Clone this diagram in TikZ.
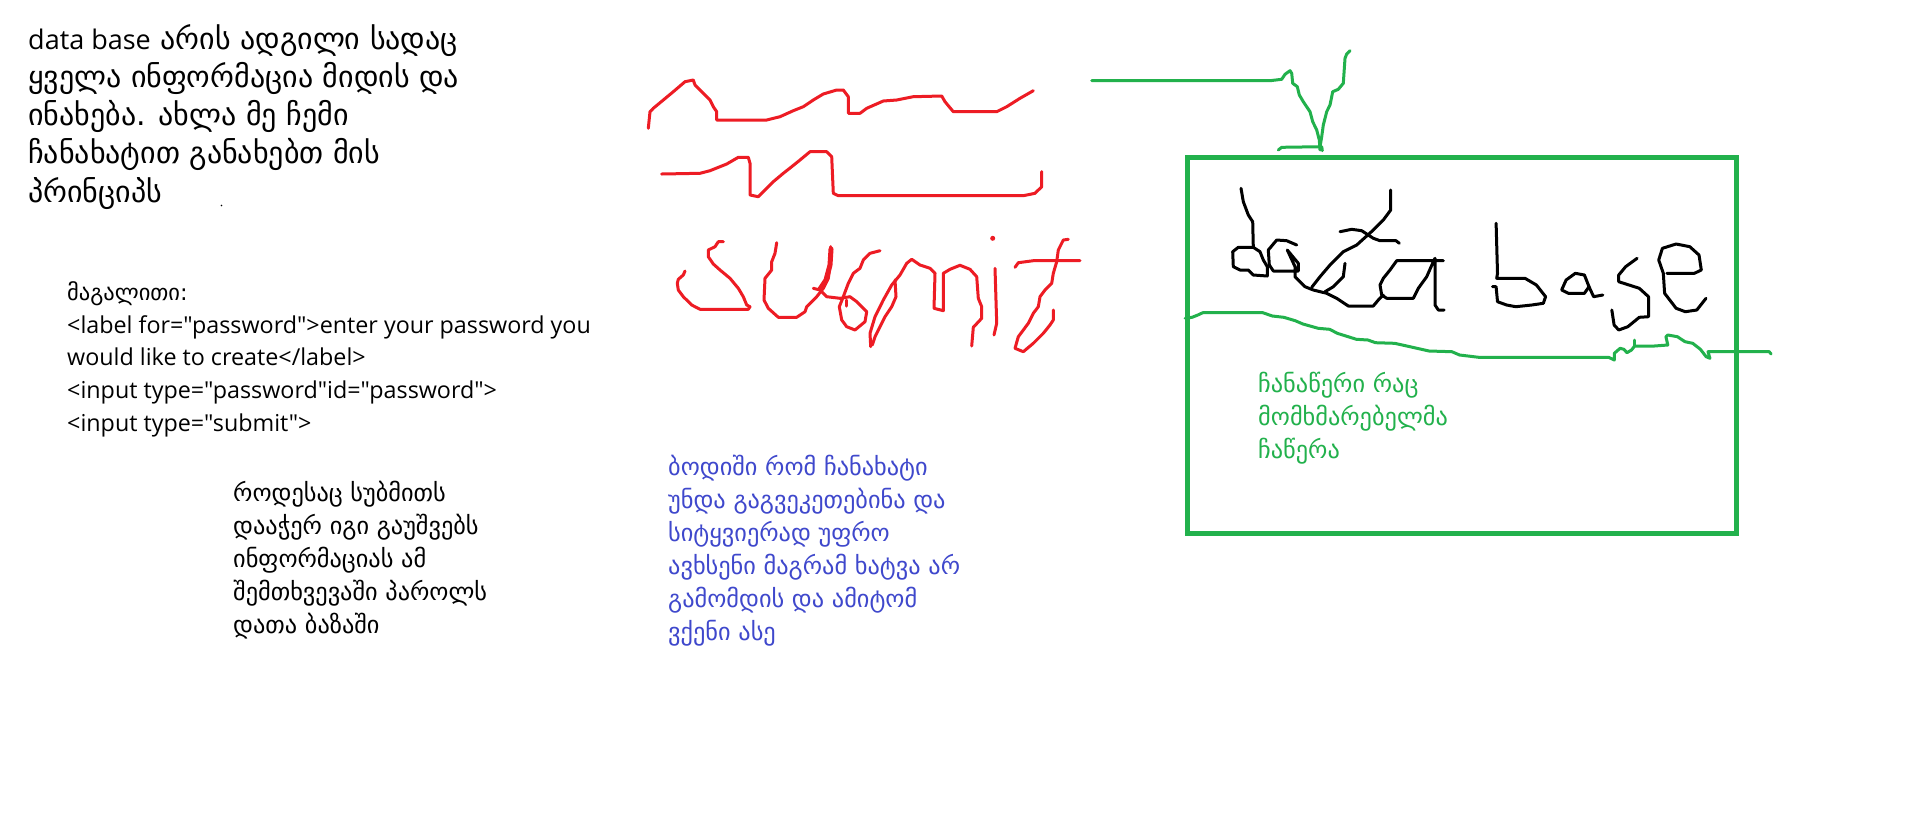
\documentclass[tikz,border=0pt]{standalone}
\usepackage{fontspec}
\setmainfont{DejaVu Sans}
\newfontfamily\latinfont{Open Sans}
\definecolor{pengreen}{RGB}{34,177,76}
\definecolor{penred}{RGB}{237,28,36}
\definecolor{penblue}{RGB}{63,72,204}

\begin{document}
\begin{tikzpicture}[
   x=1pt, y=-1pt,
   note/.style={anchor=base west, align=left, inner sep=0pt},
   bignote/.style={note, font=\fontsize{30}{38.2}\selectfont},
   codenote/.style={note, font=\fontsize{22.5}{32.9}\selectfont},
   smallnote/.style={note, font=\fontsize{24.3}{33}\selectfont},
   pen/.style={line width=3pt, line cap=round, line join=round},
   redpen/.style={pen, penred},
   greenpen/.style={pen, pengreen},
   blackpen/.style={pen, black}
]
\fill[white] (0,0) rectangle (1911,823);
\useasboundingbox (0,0) rectangle (1911,823);

\node[bignote] (intro) at (28,202.1)
   {{\latinfont\fontsize{27}{38.2}\selectfont data base} არის ადგილი სადაც\\ყველა ინფორმაცია მიდის და\\ინახება. ახლა მე ჩემი\\ჩანახატით განახებთ მის\\პრინციპს};
\fill (221.5,205.5) circle (0.8);
\node[codenote] (example) at (67,431.7)
   {მაგალითი:\\{\latinfont\fontsize{23.3}{32.9}\selectfont <label for="password">enter your password you}\\{\latinfont\fontsize{23.3}{32.9}\selectfont would like to create</label>}\\{\latinfont\fontsize{23.3}{32.9}\selectfont <input type="password"id="password">}\\{\latinfont\fontsize{23.3}{32.9}\selectfont <input type="submit">}};
\node[smallnote] (submitnote) at (233,633.3)
   {როდესაც სუბმითს\\დააჭერ იგი გაუშვებს\\ინფორმაციას ამ\\შემთხვევაში პაროლს\\დათა ბაზაში};
\node[smallnote, penblue] (drawnote) at (668,640)
   {ბოდიში რომ ჩანახატი\\უნდა გაგვეკეთებინა და\\სიტყვიერად უფრო\\ავხსენი მაგრამ ხატვა არ\\გამომდის და ამიტომ\\ვქენი ასე};
\node[smallnote, pengreen] (recordnote) at (1258,458.3)
   {ჩანაწერი რაც\\მომხმარებელმა\\ჩაწერა};

% label and password field
\draw[redpen] (648.3,128.3) -- (650,111.7) -- (653.3,108.3) -- (663.3,100) -- (673.3,91.7) -- (685,81.7) -- (693.3,80) -- (695,85) -- (701.7,91.7) -- (710,100) -- (713.3,106.7) -- (716.7,111.7) -- (716.7,120) -- (766.7,120) -- (780,116.7) -- (793.3,110.7) -- (803.3,106.7) -- (813.3,100) -- (823.3,94) -- (836.7,90) -- (843.3,90) -- (848.3,96.7) -- (848.3,113.3) -- (860,113.3) -- (866.7,108.3) -- (883.3,101) -- (896.7,100) -- (913.3,96.7) -- (941.7,96) -- (945,101.7) -- (953.3,111.7) -- (996.7,111.7) -- (1006.7,106.7) -- (1020,98.3) -- (1033.3,90.7);
\draw[redpen] (661.7,174) -- (700,173.3) -- (710,170.7) -- (726.7,164) -- (738.3,157.3) -- (748.3,157.3) -- (750,163.3) -- (750,195) -- (758.3,196.7) -- (773.3,181.7) -- (783.3,173.3) -- (791.7,166.7) -- (800,160) -- (810,151.7) -- (826.7,151.7) -- (831.7,156.7) -- (833.3,193.3) -- (838.3,195.7) -- (1023.3,195.7) -- (1035,193.3) -- (1041.7,186.7) -- (1041.7,171.7);

% submit
\draw[redpen] (723.3,241.7) -- (718.3,241.7) -- (715,246.7) -- (708.3,250) -- (708.3,256.7) -- (713.3,264) -- (720,270) -- (730,278.3) -- (738.3,288.3) -- (743.3,296.7) -- (746.7,305) -- (750,306.7) -- (748.3,309.3) -- (700,309.3) -- (691.7,305) -- (683.3,296.7) -- (678.3,290) -- (677.3,283.3) -- (678.3,279.3) -- (683.3,275) -- (685,271);
\draw[redpen] (776.7,242.7) -- (775,253.3) -- (771.7,261.7) -- (771.7,270) -- (765,278.3) -- (764,300) -- (768.3,308.3) -- (778.3,317.3) -- (796.7,317.3) -- (805,311.7) -- (806.7,306.7) -- (816.7,296.7) -- (823.3,288.3) -- (828.3,278.3) -- (830,266.7) -- (830.7,246.7);
\draw[redpen, line width=5pt] (831,249) -- (830,265) -- (826,280) -- (820,289);
\draw[redpen] (813.3,288.3) -- (820,290) -- (826.7,296.7) -- (840,298.3) -- (850,296.7) -- (856.7,301.7) -- (866.7,311.7) -- (865,321.7) -- (855,330) -- (846.7,326.7) -- (841.7,320) -- (839.3,306.7) -- (843.3,296.7) -- (848.3,283.3) -- (853.3,273.3) -- (860,268.3) -- (863.3,260) -- (870,253.3) -- (880,250.7);
\draw[redpen] (846.7,300) -- (846.7,306);
\draw[redpen] (870.7,346.7) -- (870,333.3) -- (875,316.7) -- (883.3,300) -- (891.7,285) -- (900,275) -- (906.7,263.3) -- (911.7,259.3) -- (920,265) -- (930,268.3) -- (935,273.3) -- (934,308.3) -- (943.3,310.7) -- (943.3,273.3) -- (950,269.3) -- (960,265.3) -- (970,269.3) -- (976.7,276.7) -- (978.3,298.3) -- (981.7,306.7) -- (981.7,318.3) -- (973.3,327.3) -- (971.7,346);
\draw[redpen] (895,280) -- (896,296.7) -- (891.7,306.7) -- (885,316.7) -- (880,326.7) -- (875,336.7) -- (872.3,345);
\draw[redpen] (995,268.3) -- (996.7,323.3) -- (994,335);
\fill[penred] (992.7,238.3) circle (2.5);
\draw[redpen] (1015,267.3) -- (1018.3,262.7) -- (1033.3,260.7) -- (1080,260.7);
\draw[redpen] (1068.3,239.3) -- (1063.3,240) -- (1058.3,250) -- (1056.7,261.7) -- (1053.3,273.3) -- (1051.7,283.3) -- (1045,290) -- (1040,296.7) -- (1038.3,306.7) -- (1033.3,313.3) -- (1028.3,323.3) -- (1023.3,330) -- (1018.3,336.7) -- (1015,348.3) -- (1023.3,351.7) -- (1033.3,343.3) -- (1043.3,333.3) -- (1050,325) -- (1053.3,320) -- (1053.3,310);

% arrow into the data base
\draw[greenpen] (1091.7,80.7) -- (1270,80.7) -- (1281.7,79.3) -- (1285,74.3) -- (1290,70.7) -- (1291.7,73.3) -- (1292.7,83.3) -- (1297.3,86.7) -- (1299.3,95) -- (1303.3,101.7) -- (1310,111.7) -- (1312.7,121.7) -- (1316.7,130) -- (1319.3,140) -- (1320,150);
\draw[greenpen] (1320,147) -- (1321.7,136.7) -- (1323.3,125) -- (1326.7,111.7) -- (1330,105) -- (1332.7,91.7) -- (1338.3,89.3) -- (1343.3,83.3) -- (1345,58.3) -- (1346.7,54) -- (1350,50.7);
\draw[greenpen] (1278.3,150) -- (1281.7,147.3) -- (1321.7,146.7) -- (1322.3,150.7);

% data base box
\draw[pengreen, line width=5pt] (1187.5,157.5) rectangle (1736.5,533);
\draw[greenpen] (1185.2,318.3) -- (1192.1,317.3) -- (1197.8,315) -- (1202.8,312.7) -- (1262.8,312.7) -- (1272.3,316) -- (1283.8,317.3) -- (1295.2,320.7) -- (1302.9,324) -- (1318.2,328.3) -- (1329.7,329.3) -- (1337.3,333.3) -- (1356.4,339.3) -- (1367.9,340) -- (1375.5,342.7) -- (1394.6,343.3) -- (1409.9,346.7) -- (1429,351) -- (1451.9,351.7) -- (1459.6,355) -- (1478.7,357.3) -- (1608.6,357.3) -- (1614.3,360) -- (1614.3,353.3) -- (1620.1,348.3) -- (1623.9,349.3) -- (1626.9,352.7) -- (1631.5,350) -- (1634.6,346) -- (1654.4,346) -- (1667.8,345) -- (1665.9,336.7) -- (1667.8,335) -- (1677.4,336.7) -- (1685,341.7) -- (1692.7,343.3) -- (1700.4,349.3) -- (1706.1,356.7) -- (1709.9,358.3) -- (1708,351.7) -- (1769.2,351.7) -- (1771.1,354);
\draw[greenpen] (1634.6,346) -- (1634.6,340);

% data base handwriting
\draw[blackpen] (1241,188.3) -- (1243.3,201.7) -- (1248.3,215) -- (1252.7,221.7) -- (1253.3,247.3) -- (1238.3,247.3) -- (1232.7,251.7) -- (1233.3,266.7) -- (1240,270) -- (1248.3,270) -- (1253.3,275) -- (1267.3,276) -- (1267.3,266.7) -- (1263.3,260) -- (1260,251.7) -- (1253.3,247.3);
\draw[blackpen] (1296.7,245) -- (1286.7,240.7) -- (1276.7,240) -- (1268.3,250) -- (1269.3,265) -- (1273.3,271) -- (1298.3,271) -- (1298.3,263.3) -- (1290,253.3) -- (1287.3,250) -- (1295,266.7) -- (1295,276.7) -- (1305,286.7) -- (1313.3,290) -- (1326.7,293.3) -- (1336.7,298.3) -- (1348.3,306) -- (1373.3,306) -- (1378.3,300) -- (1383.3,295);
\draw[blackpen] (1390.7,190) -- (1390.7,210) -- (1383.3,220) -- (1373.3,230) -- (1356.7,245) -- (1343.3,251.7) -- (1330,265) -- (1320,276.7) -- (1311.7,287.3);
\draw[blackpen] (1340,231.7) -- (1351.7,229.3) -- (1361.7,230.7) -- (1373.3,238.3) -- (1380,240.7) -- (1396,240.7) -- (1399.3,243.3);
\draw[blackpen] (1345,263.3) -- (1343.3,276.7) -- (1333.3,286.7) -- (1325,291.7);
\draw[blackpen] (1443.3,260.7) -- (1396.7,260.7) -- (1390,270) -- (1383.3,278.3) -- (1380,285) -- (1381.7,295) -- (1386.7,298.3) -- (1413.3,298.3) -- (1418.3,288.3) -- (1426.7,276.7) -- (1433.3,261.7) -- (1435,258.3) -- (1435,305) -- (1438.3,310) -- (1444,310);
\draw[blackpen] (1496.1,223.3) -- (1497.5,273.3) -- (1496.7,278.3) -- (1511.2,278.3) -- (1525,278.3) -- (1536.4,285) -- (1545.6,296.7) -- (1543.3,303.3) -- (1531.8,305) -- (1515.8,306.7) -- (1506.6,305) -- (1497.5,301.7) -- (1496.1,286.7) -- (1492.5,286.7);
\draw[blackpen] (1561.6,290) -- (1566.1,280) -- (1575.3,273.3) -- (1584.4,275) -- (1589,286.7) -- (1584.4,293.3) -- (1568.4,293.3) -- (1561.6,290);
\draw[blackpen] (1589,286.7) -- (1593.6,296.7) -- (1602.8,295);
\draw[blackpen] (1637.1,258.3) -- (1625.6,266.7) -- (1618.7,275) -- (1618.7,281.7) -- (1639.3,288.3) -- (1648.5,296.7) -- (1648.5,316.7) -- (1639.3,317.3) -- (1627.8,326.7) -- (1618.7,330) -- (1614.1,325) -- (1611.8,310);
\draw[blackpen] (1666.9,273.3) -- (1694.4,273.3) -- (1701.3,270) -- (1699,255) -- (1689.8,246.7) -- (1676.1,244) -- (1662.4,248.3) -- (1658.7,260) -- (1663.3,273.3) -- (1664.6,293.3) -- (1676.1,308.3) -- (1685.3,311.7) -- (1696.8,310) -- (1706,298.3);
\end{tikzpicture}
\end{document}
